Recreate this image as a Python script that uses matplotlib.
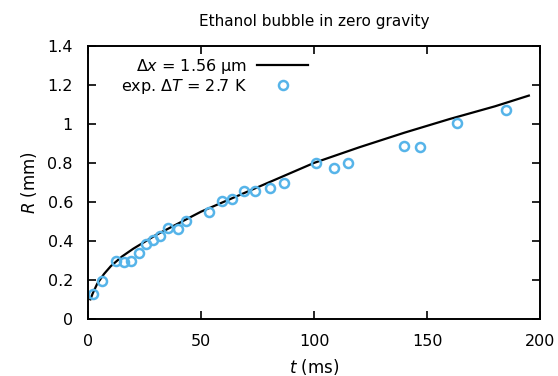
import matplotlib
matplotlib.use("Agg")
import matplotlib.pyplot as plt
from matplotlib.ticker import FuncFormatter

# simulation curve
t_sim = [1, 2, 4, 7, 10, 15, 20, 30, 40, 50, 60, 70, 80, 90, 100, 120, 140, 160, 180, 195]
R_sim = [0.10, 0.13, 0.18, 0.23, 0.27, 0.32, 0.36, 0.43, 0.49, 0.55, 0.60, 0.65, 0.70,
         0.75, 0.80, 0.88, 0.955, 1.025, 1.09, 1.145]

# experimental points
t_exp = [2.2, 6.2, 12.4, 15.9, 19.0, 22.6, 25.7, 28.8, 31.9, 35.4, 39.8, 43.4, 53.5,
         59.3, 63.7, 69.0, 73.9, 80.5, 86.7, 100.9, 108.8, 115.0, 139.8, 146.9, 163.3, 185.0]
R_exp = [0.128, 0.195, 0.297, 0.292, 0.297, 0.338, 0.385, 0.405, 0.426, 0.467, 0.462,
         0.503, 0.549, 0.605, 0.615, 0.656, 0.656, 0.672, 0.697, 0.80, 0.774, 0.80,
         0.887, 0.882, 1.005, 1.072]

plt.rcParams['mathtext.fontset'] = 'dejavusans'

fig = plt.figure(figsize=(5.58, 3.76), dpi=100)
ax = fig.add_axes([0.158, 0.152, 0.810, 0.726])

ax.plot(t_sim, R_sim, color="black", linewidth=1.6, label=r"$\Delta x$ = 1.56 µm")
ax.plot(t_exp, R_exp, linestyle="none", marker="o", markersize=6.5, markerfacecolor="none",
        markeredgecolor="#56B4E9", markeredgewidth=1.8, label=r"exp. $\Delta T$ = 2.7 K")

ax.set_xlim(0, 200)
ax.set_ylim(0, 1.4)
ax.set_xticks([0, 50, 100, 150, 200])
ax.set_yticks([0, 0.2, 0.4, 0.6, 0.8, 1.0, 1.2, 1.4])
ax.yaxis.set_major_formatter(FuncFormatter(lambda v, p: "%g" % round(v, 2)))
ax.tick_params(direction="in", top=True, right=True, length=6, width=1.2, labelsize=11.5)
ax.tick_params(axis="y", pad=11)
ax.tick_params(axis="x", pad=11)
for s in ax.spines.values():
    s.set_linewidth(1.4)

ax.set_xlabel(r"$t$ (ms)", fontsize=12, labelpad=6)
ax.set_ylabel(r"$R$ (mm)", fontsize=12, labelpad=6)
ax.set_title("Ethanol bubble in zero gravity", fontsize=11, pad=14)

ax.legend(loc="upper left", frameon=False, markerfirst=False, fontsize=11.5,
          handlelength=3.2, handletextpad=0.6, borderaxespad=0.3, labelspacing=0.05,
          bbox_to_anchor=(0.049, 1.0))

fig.savefig("out.png", dpi=100)
